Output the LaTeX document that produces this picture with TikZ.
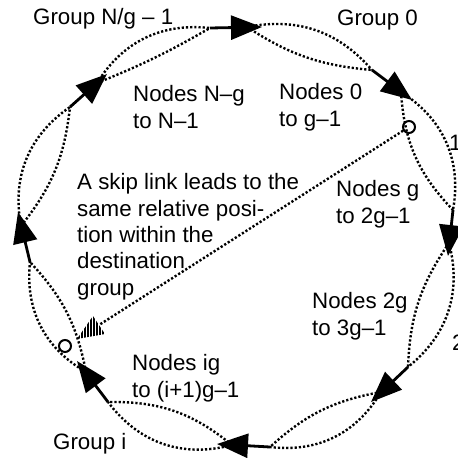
\documentclass[tikz,border=0pt]{standalone}
\usepackage{fontspec}
\setmainfont{Liberation Sans}
\usetikzlibrary{arrows.meta,calc}

\begin{document}
\begin{tikzpicture}[x=1pt,y=1pt,
		hop/.style={-{Triangle[length=31pt,width=24pt]}, line width=2.8pt},
		ring/.style={line width=2.4pt, dash pattern=on 2.2pt off 2pt},
		hole/.style={circle, draw, line width=2pt, minimum size=12pt, inner sep=0pt},
		lbl/.style={font=\fontsize{22.3}{26.3}\selectfont, align=left, inner sep=0pt, anchor=base west}
		]
		\useasboundingbox (0,0) rectangle (458,-458);
		% routing hops round the ring: tail, head centre, tip
		\coordinate (t0) at (210,-28);  \coordinate (c0) at (247,-27);  \coordinate (h0) at (262,-27);
		\coordinate (t1) at (372,-70);  \coordinate (c1) at (401,-92);  \coordinate (h1) at (412,-100);
		\coordinate (t2) at (453,-210); \coordinate (c2) at (449,-243); \coordinate (h2) at (448,-256);
		\coordinate (t3) at (408,-367); \coordinate (c3) at (381,-392); \coordinate (h3) at (371,-402);
		\coordinate (t4) at (270,-447); \coordinate (c4) at (232,-445); \coordinate (h4) at (217,-444);
		\coordinate (t5) at (108,-402); \coordinate (c5) at (86,-372);  \coordinate (h5) at (77,-361);
		\coordinate (t6) at (30,-262);  \coordinate (c6) at (21,-226);  \coordinate (h6) at (18,-212);
		\coordinate (t7) at (70,-107);  \coordinate (c7) at (97,-83);   \coordinate (h7) at (107,-74);
		% groups: one lens per group
		\draw[ring] (c0) to[bend left=30] (t1) (c0) to[bend right=14] (t1);
		\draw[ring] (c1) to[bend left=34] (t2) (c1) to[bend right=20] (t2);
		\draw[ring] (c2) to[bend left=33] (t3) (c2) to[bend right=16] (t3);
		\draw[ring] (c3) to[bend left=33] (t4) (c3) to[bend right=16] (t4);
		\draw[ring] (c4) to[bend left=34] (t5) (c4) to[bend right=20] (t5);
		\draw[ring] (c5) to[bend left=33] (t6) (c5) to[bend right=16] (t6);
		\draw[ring] (c6) to[bend left=33] (t7) (c6) to[bend right=16] (t7);
		\draw[ring] (c7) to[bend left=32] (t0) (c7) to[bend right=4] (t0);
		\draw[hop] (t0) -- (h0);
		\draw[hop] (t1) -- (h1);
		\draw[hop] (t2) -- (h2);
		\draw[hop] (t3) -- (h3);
		\draw[hop] (t4) -- (h4);
		\draw[hop] (t5) -- (h5);
		\draw[hop] (t6) -- (h6);
		\draw[hop] (t7) -- (h7);
		% skip link
		\node[hole] (src) at (409,-127) {};
		\node[hole] (dst) at (65,-346) {};
		\coordinate (skipbase) at (99,-325);
		\draw[ring] (src.212) -- (skipbase);
		\begin{scope}
			\clip (77,-339) -- (105,-334) -- (93,-316) -- cycle;
			\draw[line width=1.5pt] (79,-345) -- ++(0,35) (82,-345) -- ++(0,35) (85,-345) -- ++(0,35)
			(88,-345) -- ++(0,35) (91,-345) -- ++(0,35) (94,-345) -- ++(0,35)
			(97,-345) -- ++(0,35) (100,-345) -- ++(0,35) (103,-345) -- ++(0,35);
		\end{scope}
		% labels (multi-line ones sit on their last baseline)
		\node[lbl] (grpLast) at (33,-24) {Group N/g – 1};
		\node[lbl] (grpZero) at (337,-25) {Group 0};
		\node[lbl] (nodesLast) at (133,-128) {Nodes N–g\\to N–1};
		\node[lbl] (nodesZero) at (279,-126) {Nodes 0\\to g–1};
		\node[lbl] (grpOne) at (449,-150) {1};
		\node[lbl] (skipNote) at (77,-295) {A skip link leads to the\\same relative posi-\\tion within the\\destination\\group};
		\node[lbl] (nodesOne) at (336,-223) {Nodes g\\to 2g–1};
		\node[lbl] (nodesTwo) at (312,-335) {Nodes 2g\\to 3g–1};
		\node[lbl] (grpTwo) at (452,-350) {2};
		\node[lbl] (nodesI) at (132,-397) {Nodes ig\\to (i+1)g–1};
		\node[lbl] (grpI) at (53,-449) {Group i};
\end{tikzpicture}
\end{document}
